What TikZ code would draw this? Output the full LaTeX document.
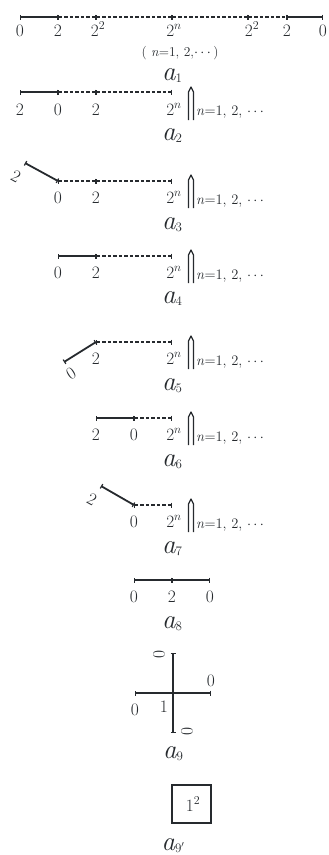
\documentclass[tikz,border=0pt]{standalone}
\usepackage{amsmath}
\usetikzlibrary{arrows.meta}
\definecolor{ink}{HTML}{262A2E}
\newcommand\alab[1]{{\fontsize{27}{32}\selectfont\itshape a}\raisebox{-2pt}{\fontsize{13}{15}\selectfont #1}}
\begin{document}
\begin{tikzpicture}[x=1pt,y=-1pt,
  solidseg/.style={draw=ink,line width=1.8pt,{Bar[width=5pt,line width=1.2pt]}-{Bar[width=5pt,line width=1.2pt]}},
  dashseg/.style={draw=ink,line width=1.1pt,dash pattern=on 3.5pt off 2pt,{Bar[width=5pt,line width=1.2pt]}-{Bar[width=5pt,line width=1.2pt]}},
  dig/.style={anchor=base,inner sep=0pt,text=ink,font=\fontsize{17.5}{21}\selectfont},
  rdig/.style={inner sep=0pt,text=ink,font=\fontsize{17.5}{21}\selectfont},
  nlab/.style={anchor=base west,inner sep=0pt,text=ink,font=\fontsize{14.5}{17}\selectfont},
  slab/.style={anchor=base,inner sep=0pt,text=ink,font=\fontsize{13.5}{16}\selectfont},
  alabel/.style={anchor=base,inner sep=0pt,text=ink},
  dbl/.style={draw=ink,line width=1.2pt,line join=round},
]
\useasboundingbox (0,0) rectangle (329,855);

% ---------- a1 ----------
\coordinate (p10) at (20,17); \coordinate (p11) at (58,17); \coordinate (p12) at (96,17);
\coordinate (p13) at (172,17); \coordinate (p14) at (248,17); \coordinate (p15) at (287,17);
\coordinate (p16) at (323,17);
\draw[solidseg] (p10) -- (p11);
\draw[dashseg] (p11) -- (p12);
\draw[dashseg] (p12) -- (p13);
\draw[dashseg] (p13) -- (p14);
\draw[dashseg] (p14) -- (p15);
\draw[solidseg] (p15) -- (p16);
\node[dig] (l10) at (20,36) {0};
\node[dig] (l11) at (58,36) {2};
\node[dig] (l12) at (98,36) {$2^2$};
\node[dig] (l13) at (174,36) {$2^n$};
\node[dig] (l14) at (252,36) {$2^2$};
\node[dig] (l15) at (287,36) {2};
\node[dig] (l16) at (323,36) {0};
\node[slab] (c1) at (180,56.5) {( \textit{n}=1, 2,$\cdots$)};
\node[alabel] (a1) at (172,80) {\alab{1}};

% ---------- a2 ----------
\coordinate (p20) at (20,92); \coordinate (p21) at (58,92); \coordinate (p22) at (96,92); \coordinate (p23) at (172,92);
\draw[solidseg] (p20) -- (p21);
\draw[dashseg] (p21) -- (p22);
\draw[dashseg] (p22) -- (p23);
\node[dig] (l20) at (20,115) {2};
\node[dig] (l21) at (58,115) {0};
\node[dig] (l22) at (96,115) {2};
\node[dig] (l23) at (174,115) {$2^n$};
\coordinate (u2a) at (188.5,120); \coordinate (u2b) at (193.5,120);
\draw[dbl] (u2a) -- ++(0,-28) -- ++(2.5,-5) -- ++(2.5,5) -- (u2b);
\node[nlab] (n2) at (196,115) {\textit{n}=1, 2, $\cdots$};
\node[alabel] (a2) at (172,140) {\alab{2}};

% ---------- a3 ----------
\coordinate (p30) at (25,163); \coordinate (p31) at (58,181); \coordinate (p32) at (96,181); \coordinate (p33) at (172,181);
\draw[solidseg] (p30) -- (p31);
\draw[dashseg] (p31) -- (p32);
\draw[dashseg] (p32) -- (p33);
\node[rdig,rotate=-29] (l30) at (16,176) {2};
\node[dig] (l31) at (58,203) {0};
\node[dig] (l32) at (96,203) {2};
\node[dig] (l33) at (174,203) {$2^n$};
\coordinate (u3a) at (188.5,208); \coordinate (u3b) at (193.5,208);
\draw[dbl] (u3a) -- ++(0,-28) -- ++(2.5,-5) -- ++(2.5,5) -- (u3b);
\node[nlab] (n3) at (196,204) {\textit{n}=1, 2, $\cdots$};
\node[alabel] (a3) at (172,229) {\alab{3}};

% ---------- a4 ----------
\coordinate (p41) at (58,256); \coordinate (p42) at (96,256); \coordinate (p43) at (172,256);
\draw[solidseg] (p41) -- (p42);
\draw[dashseg] (p42) -- (p43);
\node[dig] (l41) at (58,278) {0};
\node[dig] (l42) at (96,278) {2};
\node[dig] (l43) at (174,278) {$2^n$};
\coordinate (u4a) at (188.5,283); \coordinate (u4b) at (193.5,283);
\draw[dbl] (u4a) -- ++(0,-28) -- ++(2.5,-5) -- ++(2.5,5) -- (u4b);
\node[nlab] (n4) at (196,279) {\textit{n}=1, 2, $\cdots$};
\node[alabel] (a4) at (172,303) {\alab{4}};

% ---------- a5 ----------
\coordinate (p50) at (64,362); \coordinate (p52) at (96,342); \coordinate (p53) at (172,342);
\draw[solidseg] (p50) -- (p52);
\draw[dashseg] (p52) -- (p53);
\node[rdig,rotate=32] (l50) at (71,374) {0};
\node[dig] (l52) at (96,364) {2};
\node[dig] (l53) at (174,364) {$2^n$};
\coordinate (u5a) at (188.5,369); \coordinate (u5b) at (193.5,369);
\draw[dbl] (u5a) -- ++(0,-28) -- ++(2.5,-5) -- ++(2.5,5) -- (u5b);
\node[nlab] (n5) at (196,365) {\textit{n}=1, 2, $\cdots$};
\node[alabel] (a5) at (172,390) {\alab{5}};

% ---------- a6 ----------
\coordinate (p60) at (96,418); \coordinate (p61) at (134,418); \coordinate (p63) at (172,418);
\draw[solidseg] (p60) -- (p61);
\draw[dashseg] (p61) -- (p63);
\node[dig] (l60) at (96,440) {2};
\node[dig] (l61) at (134,440) {0};
\node[dig] (l63) at (174,440) {$2^n$};
\coordinate (u6a) at (188.5,445); \coordinate (u6b) at (193.5,445);
\draw[dbl] (u6a) -- ++(0,-28) -- ++(2.5,-5) -- ++(2.5,5) -- (u6b);
\node[nlab] (n6) at (196,441) {\textit{n}=1, 2, $\cdots$};
\node[alabel] (a6) at (172,466) {\alab{6}};

% ---------- a7 ----------
\coordinate (p70) at (101,486); \coordinate (p71) at (134,505); \coordinate (p73) at (172,505);
\draw[solidseg] (p70) -- (p71);
\draw[dashseg] (p71) -- (p73);
\node[rdig,rotate=-29] (l70) at (92,499) {2};
\node[dig] (l71) at (134,527) {0};
\node[dig] (l73) at (174,527) {$2^n$};
\coordinate (u7a) at (188.5,532); \coordinate (u7b) at (193.5,532);
\draw[dbl] (u7a) -- ++(0,-28) -- ++(2.5,-5) -- ++(2.5,5) -- (u7b);
\node[nlab] (n7) at (196,528) {\textit{n}=1, 2, $\cdots$};
\node[alabel] (a7) at (172,553) {\alab{7}};

% ---------- a8 ----------
\coordinate (p80) at (134,580); \coordinate (p81) at (172,580); \coordinate (p82) at (210,580);
\draw[solidseg] (p80) -- (p81);
\draw[solidseg] (p81) -- (p82);
\node[dig] (l80) at (134,602) {0};
\node[dig] (l81) at (172,602) {2};
\node[dig] (l82) at (210,602) {0};
\node[alabel] (a8) at (172,628) {\alab{8}};

% ---------- a9 ----------
\coordinate (h0) at (135,693); \coordinate (h1) at (211,693);
\coordinate (v0) at (173,653); \coordinate (v1) at (173,733);
\draw[solidseg] (h0) -- (h1);
\draw[solidseg] (v0) -- (v1);
\node[rdig,rotate=-90] (l9t) at (159,655) {0};
\node[dig] (l9r) at (211,686) {0};
\node[dig] (l9l) at (135,715) {0};
\node[dig] (l9c) at (164,712) {1};
\node[rdig,rotate=90] (l9b) at (187,731) {0};
\node[alabel] (a9) at (173,758) {\alab{9}};

% ---------- a9' ----------
\node[draw=ink,line width=1.6pt,minimum width=39pt,minimum height=38pt,inner sep=0pt] (bx) at (191.5,804) {};
\node[rdig] (one) at (193,804) {$1^2$};
\node[alabel] (a9p) at (173,850) {\alab{9$'$}};
\end{tikzpicture}
\end{document}
